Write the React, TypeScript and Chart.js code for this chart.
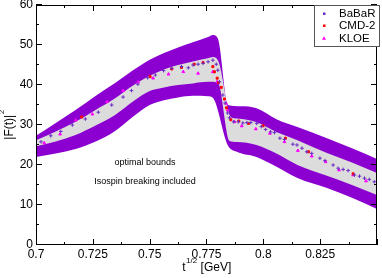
import React, { useEffect, useRef } from 'react';
import { Chart, registerables } from 'chart.js';

Chart.register(...registerables);

// ---- optimal bounds: outer band (isospin breaking included) ----
const outerUpperX = [0.7, 0.7087, 0.7174, 0.726, 0.7348, 0.7425, 0.75, 0.7563, 0.7625, 0.769, 0.7757, 0.7778, 0.78, 0.7845, 0.79, 0.797, 0.806, 0.815, 0.828, 0.839, 0.85];
const outerUpperY = [27.3, 30.5, 33.75, 37.2, 40.5, 43.6, 46.3, 48.0, 49.4, 50.7, 52.0, 52.5, 51.6, 35.0, 34.7, 34.2, 31.4, 29.5, 26.7, 24.2, 21.5];
const outerLowerX = [0.7, 0.7087, 0.7174, 0.726, 0.7348, 0.7425, 0.75, 0.7563, 0.7625, 0.769, 0.7757, 0.7778, 0.7843, 0.7883, 0.797, 0.806, 0.815, 0.828, 0.839, 0.85];
const outerLowerY = [22.0, 22.9, 24.0, 25.8, 28.5, 32.0, 35.0, 36.2, 36.9, 37.3, 37.2, 36.8, 25.0, 23.3, 22.0, 19.5, 16.75, 14.25, 11.8, 9.0];

// ---- inner band ----
const innerUpperX = [0.7, 0.7087, 0.7174, 0.726, 0.7348, 0.7425, 0.75, 0.7563, 0.7625, 0.769, 0.7757, 0.7778, 0.7805, 0.7857, 0.7885, 0.797, 0.806, 0.815, 0.828, 0.839, 0.85];
const innerUpperY = [26.2, 28.4, 30.8, 33.7, 36.7, 39.8, 42.3, 43.9, 45.0, 45.9, 46.7, 47.0, 45.5, 32.0, 31.6, 30.7, 28.2, 26.2, 23.0, 20.6, 18.0];
const innerLowerX = [0.7, 0.7087, 0.7174, 0.726, 0.7348, 0.7425, 0.75, 0.7563, 0.7625, 0.769, 0.7757, 0.78, 0.7851, 0.7883, 0.797, 0.806, 0.815, 0.828, 0.839, 0.85];
const innerLowerY = [24.7, 25.9, 27.5, 29.8, 32.5, 35.8, 38.5, 39.4, 40.0, 40.4, 40.8, 40.6, 26.0, 25.75, 25.0, 22.8, 20.0, 17.3, 15.0, 12.5];

// ---- data ----
const babarX = [0.7022, 0.7065, 0.7109, 0.716, 0.7217, 0.7274, 0.7333, 0.7383, 0.742, 0.7448, 0.7491, 0.7525, 0.7561, 0.7597, 0.764, 0.767, 0.7691, 0.7713, 0.7735, 0.7757, 0.7778, 0.7793, 0.78, 0.7807, 0.7822, 0.7832, 0.7843, 0.7851, 0.787, 0.789, 0.791, 0.7928, 0.7945, 0.7971, 0.7991, 0.801, 0.8032, 0.8049, 0.8073, 0.8093, 0.813, 0.8148, 0.817, 0.8191, 0.8213, 0.8249, 0.8271, 0.8307, 0.8329, 0.8351, 0.8373, 0.8401, 0.8423, 0.8445, 0.8466, 0.8488];
const babarY = [25.8, 27.3, 28.4, 30.0, 31.5, 33.2, 35.0, 37.0, 38.6, 40.2, 41.8, 42.5, 43.6, 44.2, 44.6, 44.3, 45.0, 45.2, 45.4, 45.8, 46.2, 45.2, 43.7, 40.8, 37.5, 35.5, 33.0, 31.8, 30.8, 30.8, 30.5, 30.6, 30.6, 30.4, 29.6, 28.9, 28.3, 28.1, 26.7, 26.4, 25.2, 25.0, 24.2, 23.3, 22.9, 21.7, 21.1, 20.0, 19.2, 18.9, 18.6, 17.5, 17.2, 16.7, 16.4, 15.8];
const cmd2X = [0.7201, 0.7502, 0.7597, 0.764, 0.7696, 0.7735, 0.7778, 0.7785, 0.7797, 0.7803, 0.7815, 0.7829, 0.7838, 0.7857, 0.7892, 0.7935, 0.7999, 0.8097, 0.8199, 0.8395];
const cmd2Y = [32.0, 42.1, 44.0, 44.4, 45.2, 45.6, 44.6, 43.3, 41.7, 40.6, 39.4, 36.5, 34.3, 31.3, 31.0, 30.4, 29.8, 26.7, 23.3, 17.8];
const kloeX = [0.7036, 0.7106, 0.7175, 0.7248, 0.7313, 0.7383, 0.7449, 0.7515, 0.7583, 0.7648, 0.7713, 0.7778, 0.7797, 0.7836, 0.7843, 0.7873, 0.7905, 0.7967, 0.8029, 0.8093, 0.8152, 0.8213, 0.8274, 0.8333, 0.8395, 0.8452];
const kloeY = [25.5, 27.7, 31.2, 32.7, 35.8, 38.6, 40.7, 41.7, 42.7, 43.3, 42.9, 43.3, 40.8, 35.4, 33.7, 30.8, 29.75, 29.0, 27.9, 25.8, 23.6, 22.2, 20.8, 18.75, 17.5, 16.0];

const seriesNames = ['BaBaR', 'CMD-2', 'KLOE'];
const seriesColors = ['#6a2cc4', '#ff0000', '#ff00ff'];
const xTickValues = [0.7, 0.725, 0.75, 0.775, 0.8, 0.825];
const annotationLines = ['optimal bounds', 'Isospin breaking included'];

const FONT = '"Liberation Sans", Arial, Helvetica, sans-serif';
const outerColor = '#8b00d1';
const innerColor = '#dcdcdc';

const pts = (xs: number[], ys: number[]) => xs.map((x, i) => ({ x, y: ys[i] }));

const decorPlugin = {
  id: 'decor',
  afterDraw(chart: any) {
    const ctx: CanvasRenderingContext2D = chart.ctx;
    const { left, right, top, bottom } = chart.chartArea;
    const xs = chart.scales.x;
    const ys = chart.scales.y;
    ctx.save();
    // frame
    ctx.strokeStyle = '#000';
    ctx.lineWidth = 1;
    ctx.strokeRect(left + 0.5, top + 0.5, right - left - 1, bottom - top - 1);
    // ticks (inward on all four sides)
    ctx.beginPath();
    for (let i = 0; i <= 12; i++) {
      const v = 0.7 + i * 0.0125;
      const px = Math.round(xs.getPixelForValue(v)) + 0.5;
      const len = i % 2 === 0 ? 6 : 3;
      ctx.moveTo(px, bottom);
      ctx.lineTo(px, bottom - len);
      ctx.moveTo(px, top);
      ctx.lineTo(px, top + len);
    }
    for (let i = 0; i <= 12; i++) {
      const v = i * 5;
      const py = Math.round(ys.getPixelForValue(v)) - 0.5;
      const len = i % 2 === 0 ? 6 : 3;
      ctx.moveTo(left, py);
      ctx.lineTo(left + len, py);
      ctx.moveTo(right, py);
      ctx.lineTo(right - len, py);
    }
    ctx.stroke();

    // axis titles
    ctx.fillStyle = '#000';
    ctx.textBaseline = 'alphabetic';
    ctx.textAlign = 'left';
    const cx = (left + right) / 2;
    ctx.font = `12px ${FONT}`;
    const wT = ctx.measureText('t').width;
    const wG = ctx.measureText(' [GeV]').width;
    ctx.font = `8px ${FONT}`;
    const wS = ctx.measureText('1/2').width;
    const x0 = cx - (wT + wS + wG) / 2;
    ctx.font = `12px ${FONT}`;
    ctx.fillText('t', x0, 271);
    ctx.font = `8px ${FONT}`;
    ctx.fillText('1/2', x0 + wT + 0.5, 263);
    ctx.font = `12px ${FONT}`;
    ctx.fillText(' [GeV]', x0 + wT + wS + 0.5, 271);

    // y title rotated
    ctx.save();
    const cy = (top + bottom) / 2;
    ctx.translate(13, cy);
    ctx.rotate(-Math.PI / 2);
    ctx.font = `12px ${FONT}`;
    const wF = ctx.measureText('|F(t)|').width;
    ctx.font = `8px ${FONT}`;
    const w2 = ctx.measureText('2').width;
    const start = -(wF + w2) / 2;
    ctx.font = `12px ${FONT}`;
    ctx.fillText('|F(t)|', start, 0);
    ctx.font = `8px ${FONT}`;
    ctx.fillText('2', start + wF + 0.5, -9);
    ctx.restore();

    // annotation text
    ctx.font = `9px ${FONT}`;
    ctx.textAlign = 'center';
    ctx.textBaseline = 'middle';
    ctx.fillText(annotationLines[0], 145, 162.5);
    ctx.fillText(annotationLines[1], 145, 181.5);

    // legend
    const lx0 = 314, ly0 = 5, lx1 = 380, ly1 = 47;
    ctx.fillStyle = '#fff';
    ctx.fillRect(lx0, ly0, lx1 - lx0, ly1 - ly0);
    ctx.strokeStyle = '#555';
    ctx.lineWidth = 1;
    ctx.strokeRect(lx0 + 0.5, ly0 + 0.5, lx1 - lx0 - 1, ly1 - ly0 - 1);
    ctx.font = `11.5px ${FONT}`;
    ctx.textAlign = 'left';
    ctx.textBaseline = 'middle';
    const rows = [13.5, 25.5, 38.3];
    seriesNames.forEach((name, i) => {
      const y = rows[i];
      ctx.fillStyle = seriesColors[i];
      if (i === 2) {
        ctx.beginPath();
        ctx.moveTo(324, y - 2);
        ctx.lineTo(326, y + 1.5);
        ctx.lineTo(322, y + 1.5);
        ctx.closePath();
        ctx.fill();
      } else {
        ctx.fillRect(323, y - 1, 2.5, 2.5);
      }
      ctx.fillStyle = '#000';
      ctx.fillText(name, 339, y + 0.5);
    });
    ctx.restore();
  },
};

export default function App() {
  const ref = useRef<HTMLCanvasElement>(null);
  useEffect(() => {
    document.body.style.margin = '0';
    const fixY = (s: any) => {
      s.width = 36;
      s.paddingTop = 0; s.paddingBottom = 0; s.paddingLeft = 0; s.paddingRight = 0;
    };
    const fixX = (s: any) => {
      s.height = 33;
      s.paddingTop = 0; s.paddingBottom = 0; s.paddingLeft = 0; s.paddingRight = 0;
    };
    const band = { borderWidth: 0, pointRadius: 0, cubicInterpolationMode: 'monotone' };
    const chart = new Chart(ref.current as HTMLCanvasElement, {
      type: 'line',
      data: {
        datasets: [
          {
            label: seriesNames[0], data: pts(babarX, babarY), showLine: false,
            pointStyle: 'cross', pointRadius: 1.8, borderColor: seriesColors[0], backgroundColor: seriesColors[0], borderWidth: 1,
          },
          {
            label: seriesNames[1], data: pts(cmd2X, cmd2Y), showLine: false,
            pointStyle: 'rect', pointRadius: 1.4, borderColor: seriesColors[1], backgroundColor: seriesColors[1], borderWidth: 1,
          },
          {
            label: seriesNames[2], data: pts(kloeX, kloeY), showLine: false,
            pointStyle: 'triangle', pointRadius: 1.6, borderColor: seriesColors[2], backgroundColor: seriesColors[2], borderWidth: 1,
          },
          { label: 'inner upper', data: pts(innerUpperX, innerUpperY), fill: '+1', backgroundColor: innerColor, borderColor: innerColor, ...band },
          { label: 'inner lower', data: pts(innerLowerX, innerLowerY), fill: false, borderColor: innerColor, ...band },
          { label: 'outer upper', data: pts(outerUpperX, outerUpperY), fill: '+1', backgroundColor: outerColor, borderColor: outerColor, ...band },
          { label: 'outer lower', data: pts(outerLowerX, outerLowerY), fill: false, borderColor: outerColor, ...band },
        ],
      },
      options: {
        animation: false,
        responsive: false,
        devicePixelRatio: 1,
        layout: { padding: { left: 0, right: 2, top: 5, bottom: 0 } },
        plugins: { legend: { display: false }, tooltip: { enabled: false } },
        scales: {
          x: {
            type: 'linear', min: 0.7, max: 0.85,
            afterFit: fixX,
            afterBuildTicks: (s: any) => { s.ticks = xTickValues.map((v) => ({ value: v })); },
            ticks: {
              padding: 2, color: '#000', font: { size: 12, family: FONT }, maxRotation: 0, autoSkip: false,
              callback: (v: any) => String(Math.round(Number(v) * 1000) / 1000),
            },
            grid: { display: false, drawTicks: false },
            border: { display: false },
          },
          y: {
            type: 'linear', min: 0, max: 60,
            afterFit: fixY,
            ticks: { stepSize: 10, padding: 3, color: '#000', font: { size: 12, family: FONT } },
            grid: { display: false, drawTicks: false },
            border: { display: false },
          },
        },
      } as any,
      plugins: [decorPlugin],
    });
    return () => chart.destroy();
  }, []);
  return <canvas ref={ref} width={382} height={278} style={{ display: 'block' }} />;
}
